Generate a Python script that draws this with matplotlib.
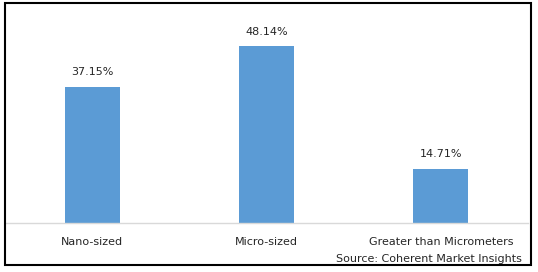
import matplotlib.pyplot as plt
from matplotlib.patches import Rectangle

categories = ["Nano-sized", "Micro-sized", "Greater than Micrometers"]
shares = [37.15, 48.14, 14.71]
bar_color = "#5B9BD5"

W, H = 538, 272
fig = plt.figure(figsize=(W / 100, H / 100), dpi=100)

# axes: x 5..528 px, y 3..223 px (from top)
ax = fig.add_axes([5 / W, (H - 223) / H, 523 / W, 220 / H])
x = range(len(categories))
bars = ax.bar(x, shares, width=0.315, color=bar_color)
ax.set_xlim(-0.5, 2.5)
ax.set_ylim(0, 60)

for b, v in zip(bars, shares):
    ax.annotate("%.2f%%" % v, (b.get_x() + b.get_width() / 2, v),
                xytext=(0, 7), textcoords="offset points",
                ha="center", va="bottom", fontsize=8, color="#262626")

ax.set_xticks(list(x))
ax.set_xticklabels(categories, fontsize=8, color="#262626")
ax.tick_params(axis="x", length=0, pad=10)
ax.set_yticks([])
for s in ["top", "right", "left"]:
    ax.spines[s].set_visible(False)
ax.spines["bottom"].set_color("#d9d9d9")
ax.spines["bottom"].set_linewidth(1)

fig.text(522 / W, (H - 259) / H, "Source: Coherent Market Insights",
         ha="right", va="center", fontsize=8, color="#262626")

fig.patches.append(Rectangle((5 / W, (H - 265) / H), 526 / W, 262 / H,
                             transform=fig.transFigure, fill=False,
                             edgecolor="black", linewidth=1.5))

fig.savefig("out.png", dpi=100)
